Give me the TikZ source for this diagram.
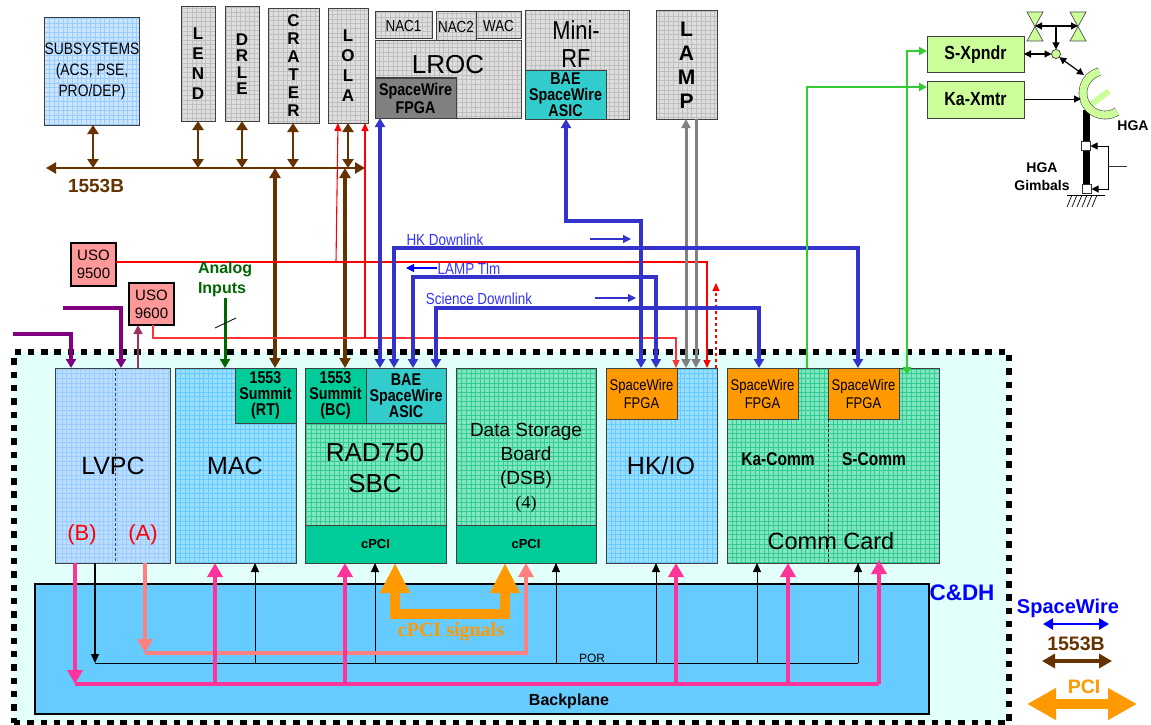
\documentclass[tikz,border=0pt]{standalone}
\usepackage{fontspec}
\setmainfont{Liberation Sans}
\newfontfamily\nf[FakeStretch=0.84]{Liberation Sans}
\newfontfamily\srf{Liberation Serif}
\usetikzlibrary{arrows.meta}
\definecolor{cbrown}{HTML}{663300}
\definecolor{cblue}{HTML}{3333CC}
\definecolor{cpink}{HTML}{FF3399}
\definecolor{csalm}{HTML}{FF8080}
\definecolor{corng}{HTML}{FF9900}
\definecolor{cgrn}{HTML}{33CC33}
\definecolor{cdgrn}{HTML}{006600}
\definecolor{cpurp}{HTML}{800080}
\definecolor{cplum}{HTML}{993366}
\definecolor{clime}{HTML}{CCFF99}
\definecolor{cteal}{HTML}{33CCCC}
\definecolor{csea}{HTML}{00CC99}
\definecolor{ctxtb}{HTML}{3333FF}
\definecolor{gsub}{HTML}{99CCFF}
\definecolor{fsub}{HTML}{CCE5FF}
\definecolor{flv}{HTML}{BBDDFF}
\definecolor{gmac}{HTML}{66CCFF}
\definecolor{fmac}{HTML}{99DDFF}
\definecolor{gsbc}{HTML}{33CC99}
\definecolor{fsbc}{HTML}{80E6BE}
\definecolor{fcdh}{HTML}{E3FFFA}
\definecolor{fbp}{HTML}{66CCFF}
\definecolor{fuso}{HTML}{FF9999}
\newcommand{\fs}[1]{\fontsize{#1}{#1}\selectfont}
\newcommand{\fl}[2]{\fontsize{#1}{#2}\selectfont}
\newcommand{\bx}[7]{\node[#6,minimum width={(#4-#2)*1pt},minimum height={(#5-#3)*1pt}] (#1) at ({(#2+#4)/2},{(#3+#5)/2}) {#7};}
\tikzset{
  base/.style={inner sep=0pt,outer sep=0pt,align=center,draw=black!75,line width=1pt},
  grd/.style={base,path picture={\draw[step=4.6pt,line width=0.35pt,draw=#1] (path picture bounding box.south west) grid (path picture bounding box.north east);}},
  grayb/.style={grd=black!25,fill=black!13},
  subsb/.style={grd=gsub,fill=fsub},
  lvpcb/.style={grd=gsub,fill=flv},
  macb/.style={grd=gmac,fill=fmac},
  sbcb/.style={grd=gsbc,fill=fsbc},
  solid1/.style={base,fill=#1},
  lbl/.style={inner sep=0pt,outer sep=0pt,align=center},
  brn/.style={draw=cbrown,line width=2.8pt,>={Triangle[length=10pt,width=11pt]}},
  blu/.style={draw=cblue,line width=3.4pt,>={Triangle[length=9pt,width=10pt]}},
  thinblu/.style={draw=cblue,line width=1.1pt,>={Triangle[length=8pt,width=8pt]}},
  rd/.style={draw=red,line width=1.1pt,>={Triangle[length=8pt,width=7pt]}},
  gry/.style={draw=black!50,line width=3pt,>={Triangle[length=9pt,width=9pt]}},
  grn/.style={draw=cgrn,line width=2.2pt,>={Triangle[length=8pt,width=8pt]}},
  pnk/.style={draw=cpink,line width=4.4pt,>={Triangle[length=14pt,width=15pt]}},
  sal/.style={draw=csalm,line width=4.4pt,>={Triangle[length=14pt,width=15pt]}},
  blk/.style={draw=black,line width=1pt,>={Triangle[length=9pt,width=8pt]}},
  pur/.style={draw=cpurp,line width=3.2pt,>={Triangle[length=9pt,width=10pt]}},
  blk2/.style={draw=black,line width=1pt,>={Triangle[length=7pt,width=7pt]}},
  org/.style={draw=corng,line width=10pt,>={Triangle[length=30pt,width=28pt]}},
}
\begin{document}
\begin{tikzpicture}[x=1pt,y=-1pt]
\useasboundingbox (0,0) rectangle (1151,725);
% C&DH enclosure
\bx{cdh}{14}{352}{1009}{723}{fill=fcdh,draw=black,line width=6pt,dash pattern=on 6.4pt off 6.9pt,inner sep=0pt,outer sep=0pt}{}
\bx{bp}{35}{584}{929}{714}{fill=fbp,draw=black,line width=2pt,inner sep=0pt,outer sep=0pt}{}
% instruments
\bx{subs}{45}{18}{139}{125}{subsb,font=\nf\fl{16.5}{21}}{SUBSYSTEMS\\(ACS, PSE,\\PRO/DEP)}
\bx{lend}{181}{7}{215}{121}{grayb,font=\bfseries\fl{17}{20}}{L\\E\\N\\D}
\bx{drle}{225}{7}{259}{121}{grayb,font=\bfseries\fl{17}{16.5}}{D\\R\\L\\E}
\bx{crater}{268}{9}{319}{123}{grayb,font=\bfseries\fl{17}{18}}{C\\R\\A\\T\\E\\R}
\bx{lola}{328}{9}{368}{123}{grayb,font=\bfseries\fl{17}{20}}{L\\O\\L\\A}
\bx{nacone}{375}{12}{432}{39}{grayb,font=\nf\fs{16}}{NAC1}
\bx{nactwo}{436}{12}{476}{41}{grayb,font=\nf\fs{16}}{NAC2}
\bx{wac}{476}{12}{521}{39}{grayb,font=\nf\fs{16}}{WAC}
\bx{lroc}{375}{41}{521}{118}{grayb}{}
\node[lbl,font=\fs{26}] (lroct) at (448,65) {LROC};
\bx{lrocf}{375}{78}{456}{118}{solid1={black!50},font=\nf\bfseries\fl{17}{18}}{SpaceWire\\FPGA}
\bx{mini}{525}{11}{629}{119}{grayb}{}
\node[lbl,font=\nf\fl{26}{28}] (minit) at (576,44.5) {Mini-\\RF};
\bx{minif}{525}{71}{606}{119}{solid1=cteal,font=\nf\bfseries\fl{17}{16}}{BAE\\SpaceWire\\ASIC}
\bx{lamp}{656}{11}{717}{119}{grayb,font=\bfseries\fl{21}{24}}{L\\A\\M\\P}
\bx{sx}{927}{37}{1024}{73}{solid1=clime,font=\nf\bfseries\fs{19}}{S-Xpndr}
\bx{ka}{927}{81}{1024}{118}{solid1=clime,font=\nf\bfseries\fs{19}}{Ka-Xmtr}
% USO
\bx{usoa}{71}{243}{116}{286}{base,fill=fuso,draw=black,line width=1.4pt,font=\fl{15}{18}}{USO\\9500}
\bx{usob}{129}{283}{174}{325}{base,fill=fuso,draw=black,line width=1.4pt,font=\fl{15}{18}}{USO\\9600}
% boards
\bx{lvpc}{55}{368}{170}{563}{lvpcb}{}
\draw[densely dashed,black!75,line width=0.8pt] (115,0 |- lvpc.north) -- (115,0 |- lvpc.south);
\node[lbl,font=\fs{25}] (lvpct) at (113,466) {LVPC};
\node[lbl,text=red,font=\fs{22}] (lvb) at (82,535) {(B)};
\node[lbl,text=red,font=\fs{22}] (lva) at (143,535) {(A)};
\bx{mac}{175}{368}{296}{563}{macb}{}
\node[lbl,font=\fs{25}] (mact) at (235,466) {MAC};
\bx{rt}{235}{368}{296}{423}{solid1=csea,font=\nf\bfseries\fl{17}{16}}{1553\\Summit\\(RT)}
\bx{sbc}{305}{368}{446}{563}{sbcb}{}
\bx{bc}{305}{368}{366}{423}{solid1=csea,font=\nf\bfseries\fl{17}{16}}{1553\\Summit\\(BC)}
\bx{sbca}{366}{368}{446}{423}{solid1=cteal,font=\nf\bfseries\fl{17}{16}}{BAE\\SpaceWire\\ASIC}
\node[lbl,font=\fl{26}{31.5}] (sbct) at (375,468) {RAD750\\SBC};
\bx{sbcp}{305}{525}{446}{563}{solid1=csea,font=\bfseries\fs{13}}{cPCI}
\bx{dsb}{456}{368}{596}{563}{sbcb}{}
\node[lbl,font=\fl{19}{24}] (dsbt) at (526,468) {Data Storage\\Board\\(DSB)\\{\srf\fs{18}(4)}};
\bx{dsbp}{456}{525}{596}{563}{solid1=csea,font=\bfseries\fs{13}}{cPCI}
\bx{hk}{606}{368}{717}{563}{macb}{}
\node[lbl,font=\fs{25}] (hkt) at (661,466) {HK/IO};
\bx{hkf}{606}{368}{677}{419}{solid1=corng,font=\nf\fl{15.5}{18}}{SpaceWire\\FPGA}
\bx{comm}{727}{368}{939}{563}{sbcb}{}
\bx{commfa}{727}{368}{798}{419}{solid1=corng,font=\nf\fl{15.5}{18}}{SpaceWire\\FPGA}
\bx{commfb}{828}{368}{899}{419}{solid1=corng,font=\nf\fl{15.5}{18}}{SpaceWire\\FPGA}
\draw[densely dashed,black!85,line width=0.8pt] (828,0 |- commfb.south) -- (828,0 |- comm.south);
\node[lbl,font=\nf\bfseries\fs{18.5}] (kac) at (778,459) {Ka-Comm};
\node[lbl,font=\nf\bfseries\fs{18.5}] (sc) at (874,459) {S-Comm};
\node[lbl,font=\fs{23.5}] (cct) at (831,541) {Comm Card};
% bus
\coordinate (bus) at (0,168);
\coordinate (busl) at (46,168);
\coordinate (busr) at (365,168);
\draw[brn,<->] (busl) -- (busr);
\node[lbl,text=cbrown,font=\bfseries\fs{19}] (bustxt) at (96,186) {1553B};
\foreach \n/\xx in {subs/93,lend/198,drle/242,crater/293,lola/348}
  \draw[brn,<->,>={Triangle[length=9pt,width=11pt]}] (\xx,0 |- \n.south) -- (\xx,0 |- bus);
\draw[brn,line width=3.2pt,<->] (275,0 |- bus) -- (275,0 |- rt.north);
\draw[brn,line width=3.2pt,<->] (345,0 |- bus) -- (345,0 |- bc.north);
% red
\coordinate (ra) at (707,262);
\coordinate (rb) at (336,262);
\draw[rd,->] (usoa.east |- rb) -- (ra) -- (707,0 |- hk.north);
\draw[rd,->] (rb) -- (338,0 |- lola.south);
\coordinate (rc) at (153,338);
\coordinate (rd2) at (676,338);
\coordinate (re) at (365,338);
\draw[rd,draw=red!80,->] (153,0 |- usob.south) -- (rc) -- (rd2) -- (676,0 |- hk.north);
\draw[rd,->] (re) -- (365,0 |- lola.south);
\coordinate (rf) at (716,283);
\draw[rd,dashed,line width=1.2pt,->] (716,0 |- hk.north) -- (rf);
% gray
\draw[gry,<->] (686,0 |- lamp.south) -- (686,0 |- hk.north);
\draw[gry,->] (696,0 |- lamp.south) -- (696,0 |- hk.north);
% blue
\draw[blu,<->] (380,0 |- lrocf.south) -- (380,0 |- sbca.north);
\coordinate (ha) at (394,248);
\coordinate (hb) at (858,248);
\draw[blu,<->] (394,0 |- sbca.north) -- (ha) -- (hb) -- (858,0 |- commfb.north);
\coordinate (la) at (413,277);
\coordinate (lb) at (656,277);
\draw[blu,<->] (413,0 |- sbca.north) -- (la) -- (lb) -- (656,0 |- hkf.north);
\coordinate (sa) at (436,308);
\coordinate (sb) at (759,308);
\draw[blu,<->] (436,0 |- sbca.north) -- (sa) -- (sb) -- (759,0 |- commfa.north);
\coordinate (ma) at (566,221);
\coordinate (mb) at (641,221);
\draw[blu,<->] (566,0 |- minif.south) -- (ma) -- (mb) -- (641,0 |- hkf.north);
\node[lbl,text=ctxtb,font=\nf\fs{16}] (hkd) at (445,240) {HK Downlink};
\node[lbl,text=ctxtb,font=\nf\fs{16}] (lat) at (469,269) {LAMP Tlm};
\node[lbl,text=ctxtb,font=\nf\fs{16}] (scd) at (479,299) {Science Downlink};
\coordinate (a1s) at (590,239); \coordinate (a1e) at (631,239);
\coordinate (a2s) at (437,268); \coordinate (a2e) at (406,268);
\coordinate (a3s) at (595,298); \coordinate (a3e) at (636,298);
\draw[thinblu,->] (a1s) -- (a1e);
\draw[thinblu,->,draw=blue] (a2s) -- (a2e);
\draw[thinblu,->] (a3s) -- (a3e);
% green
\coordinate (ga) at (807,87);
\coordinate (gb) at (907,51);
\draw[grn,->] (807,0 |- comm.north) -- (ga) -- (ga -| ka.west);
\draw[grn,<->] (907,375) -- (gb) -- (gb -| sx.west);
% purple and analog
\coordinate (pa) at (13,334); \coordinate (pb) at (71,334);
\coordinate (pc) at (63,308); \coordinate (pd) at (121,308);
\draw[pur,->] (pa) -- (pb) -- (71,0 |- lvpc.north);
\draw[pur,->] (pc) -- (pd) -- (121,0 |- lvpc.north);
\draw[draw=cplum,line width=1.4pt,->,>={Triangle[length=9pt,width=9pt]}] (138,0 |- lvpc.north) -- (138,0 |- usob.south);
\coordinate (an) at (225,298);
\draw[draw=cdgrn,line width=3pt,->,>={Triangle[length=9pt,width=10pt]}] (an) -- (225,0 |- mac.north);
\coordinate (sla) at (215,328); \coordinate (slb) at (236,318);
\draw[black,line width=0.8pt] (sla) -- (slb);
\node[lbl,text=cdgrn,align=left,anchor=west,font=\bfseries\fl{16}{20}] (ant) at (198,279.5) {Analog\\Inputs};
% backplane connectors
\coordinate (pora) at (95,663);
\coordinate (porb) at (858,663);
\draw[blk,line width=1.2pt,->] (95,0 |- lvpc.south) -- (pora);
\draw[blk] (pora) -- (porb);
\foreach \n/\xx in {mac/255,sbcp/375,dsbp/556,hk/656,comm/757,comm/858}
  \draw[blk,->] (\xx,663) -- (\xx,0 |- \n.south);
\node[lbl,font=\fs{12}] (por) at (592,658) {POR};
\coordinate (sala) at (145,653); \coordinate (salb) at (526,653);
\draw[sal,->] (145,0 |- lvpc.south) -- (sala);
\draw[sal,->] (sala) -- (salb) -- (526,0 |- dsbp.south);
\coordinate (pka) at (75,684); \coordinate (pkb) at (879,684);
\draw[pnk,->] (75,0 |- lvpc.south) -- (pka);
\draw[pnk] (pka) -- (pkb);
\foreach \n/\xx in {mac/215,sbcp/345,hk/676,comm/788}
  \draw[pnk,->] (\xx,684) -- (\xx,0 |- \n.south);
\coordinate (pkc) at (879,560);
\draw[pnk,->] (pkb) -- (pkc);
\coordinate (oa) at (395,614); \coordinate (ob) at (505,614);
\draw[org,<->] (395,0 |- sbcp.south) -- (oa) -- (ob) -- (505,0 |- dsbp.south);
\node[lbl,text=corng,font=\srf\bfseries\fs{20}] (cps) at (451,632) {cPCI signals};
\node[lbl,font=\bfseries\fs{16}] (bpt) at (569,701) {Backplane};
\node[lbl,text=blue,font=\bfseries\fs{22.5}] (cdht) at (962,593) {C\&DH};
% legend
\node[lbl,text=blue,font=\bfseries\fs{20}] (lsw) at (1068,608) {SpaceWire};
\coordinate (lswa) at (1043,624); \coordinate (lswb) at (1109,624);
\draw[draw=blue,line width=2.6pt,<->,>={Triangle[length=10pt,width=11pt]}] (lswa) -- (lswb);
\node[lbl,text=cbrown,font=\bfseries\fs{19.5}] (lbr) at (1076,644) {1553B};
\coordinate (lbra) at (1042,661); \coordinate (lbrb) at (1112,661);
\draw[draw=cbrown,line width=3.4pt,<->,>={Triangle[length=13pt,width=14pt]}] (lbra) -- (lbrb);
\node[lbl,text=corng,font=\bfseries\fs{19.5}] (lpc) at (1084,687) {PCI};
\coordinate (lpa) at (1027,704); \coordinate (lpb) at (1137,704);
\draw[org,<->,>={Triangle[length=29pt,width=30pt]}] (lpa) -- (lpb);
% HGA
\coordinate (bta) at (1035,26); \coordinate (btb) at (1078,26);
\foreach \xx in {1035,1078}{
  \draw[draw=black!70,fill=clime,line width=0.7pt] (\xx-8,12) -- (\xx+8,12) -- (\xx-8,41) -- (\xx+8,41) -- cycle;
}
\draw[blk2,line width=1.2pt,<->] (bta) -- (btb);
\node[circle,draw=black!80,fill=clime,minimum size=9pt,inner sep=0pt,outer sep=0pt,line width=0.7pt] (cir) at (1056,54) {};
\coordinate (btc) at (1056,26);
\draw[blk2,line width=1.2pt,->] (btc) -- (cir.north);
\draw[blk2,line width=1.2pt,<->] (sx.east |- cir) -- (cir.west);
\coordinate (dishp) at (1084,75);
\draw[blk2,line width=1.2pt,<->] (cir.south east) -- (dishp);
\coordinate (mta) at (1086,110); \coordinate (mtb) at (1086,192);
\draw[black,line width=7pt] (mta) -- (mtb);
\draw[draw=black!70,line width=8.6pt] plot[domain=105:303,samples=40] ({1105+22*cos(\x)},{93-22*sin(\x)});
\draw[draw=clime,line width=7.4pt] plot[domain=105:303,samples=40] ({1105+22*cos(\x)},{93-22*sin(\x)});
\coordinate (fa) at (1092,104); \coordinate (fb) at (1109,91);
\draw[draw=clime,line width=6pt] (fa) -- (fb);
\coordinate (kad) at (1081,99);
\draw[blk2,->] (ka.east |- kad) -- (kad);
\node[draw=black!80,fill=white,minimum size=9pt,inner sep=0pt,outer sep=0pt,line width=0.7pt] (gma) at (1086,146) {};
\node[draw=black!80,fill=white,minimum size=9pt,inner sep=0pt,outer sep=0pt,line width=0.7pt] (gmb) at (1087,189) {};
\coordinate (fba) at (1108,146); \coordinate (fbb) at (1108,189);
\coordinate (fbc) at (1108,166); \coordinate (fbd) at (1127,166);
\draw[blk2,->] (fba) -- (gma.east);
\draw[blk2,->] (fba) -- (fbb) -- (gmb.east);
\draw[black!80,line width=0.8pt] (fbc) -- (fbd);
\coordinate (gra) at (1067,195); \coordinate (grb) at (1105,195);
\draw[black,line width=0.8pt] (gra) -- (grb);
\foreach \xx in {1072,1077,1082,1087,1092,1097}
  \draw[black,line width=0.7pt] (\xx,195) -- (\xx-5,207);
\node[lbl,font=\bfseries\fs{14}] (hgat) at (1133,126) {HGA};
\node[lbl,font=\bfseries\fl{14}{18}] (gimt) at (1042,177) {HGA\\Gimbals};
\end{tikzpicture}
\end{document}
